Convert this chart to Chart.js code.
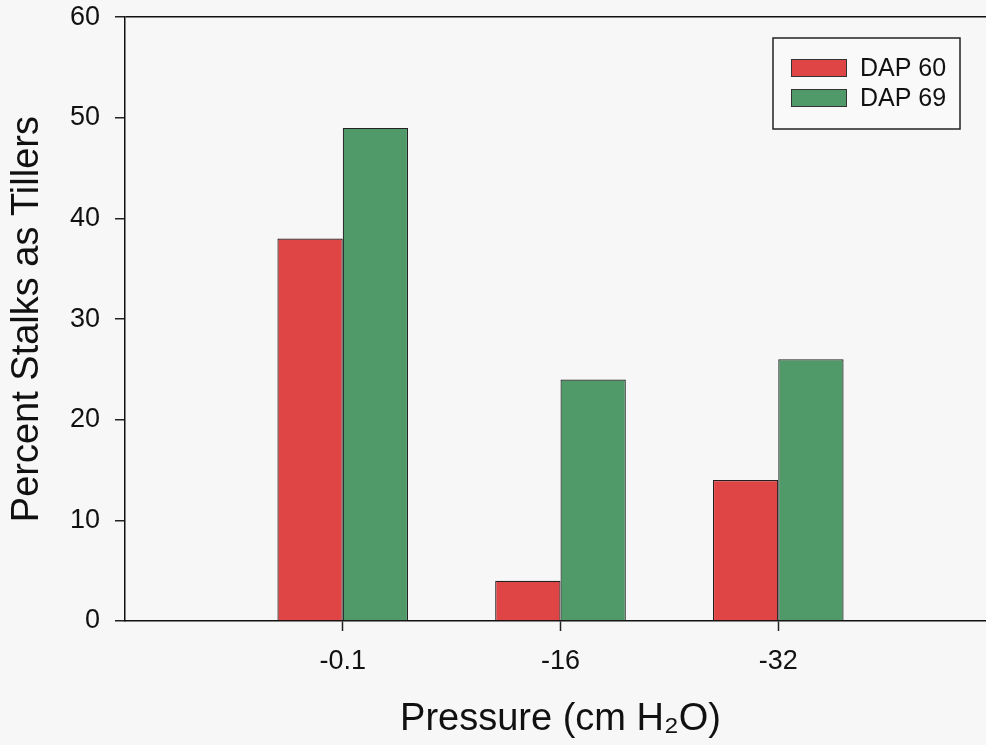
<!DOCTYPE html>
<html>
<head>
<meta charset="utf-8">
<script src="https://cdn.jsdelivr.net/npm/chart.js@4.4.1/dist/chart.umd.min.js"></script>
<style>
  html, body { margin: 0; padding: 0; background: #f7f7f7; overflow: hidden; }
  #wrap { position: relative; width: 986px; height: 745px; overflow: hidden; }
  #c { position: absolute; left: 0; top: -14px; }
</style>
</head>
<body>
<div id="wrap"><canvas id="c" width="1010" height="759"></canvas></div>
<script>
const categories = ['', '-0.1', '-16', '-32', ''];
const dap60 = [null, 38, 4, 14, null];
const dap69 = [null, 49, 24, 26, null];
const seriesNames = ['DAP 60', 'DAP 69'];
const yTicks = [0, 10, 20, 30, 40, 50, 60];

const RED = '#e04545';
const GREEN = '#4f9a68';
const FONT = "'Liberation Sans', Arial, sans-serif";
const SHIFT = 14;

const bgPlugin = {
  id: 'bg',
  beforeDraw(chart) {
    const ctx = chart.ctx;
    ctx.save();
    ctx.fillStyle = '#f7f7f7';
    ctx.fillRect(0, 0, chart.width, chart.height);
    ctx.restore();
  }
};

const legendPlugin = {
  id: 'boxLegend',
  afterDraw(chart) {
    const ctx = chart.ctx;
    const x0 = 773, y0 = 38 + SHIFT, w = 187, h = 91;
    ctx.save();
    ctx.fillStyle = '#f9f9f9';
    ctx.fillRect(x0, y0, w, h);
    ctx.strokeStyle = '#222';
    ctx.lineWidth = 1.5;
    ctx.strokeRect(x0, y0, w, h);
    chart.data.datasets.forEach((ds, i) => {
      const sy = 59 + SHIFT + i * 30;
      ctx.fillStyle = ds.backgroundColor;
      ctx.fillRect(791, sy, 56, 18);
      ctx.strokeStyle = '#333';
      ctx.lineWidth = 1;
      ctx.strokeRect(791.5, sy + 0.5, 55, 17);
      ctx.fillStyle = '#111';
      ctx.font = '25px ' + FONT;
      ctx.textAlign = 'left';
      ctx.textBaseline = 'middle';
      ctx.fillText(ds.label, 860, sy + 10);
    });
    ctx.restore();
  }
};

new Chart(document.getElementById('c'), {
  type: 'bar',
  data: {
    labels: categories,
    datasets: [
      { label: seriesNames[0], data: dap60, backgroundColor: RED, borderColor: '#222', borderWidth: 1.2 },
      { label: seriesNames[1], data: dap69, backgroundColor: GREEN, borderColor: '#222', borderWidth: 1.2 }
    ]
  },
  options: {
    responsive: false,
    animation: false,
    categoryPercentage: 0.6,
    barPercentage: 1.0,
    layout: { padding: { top: 2, right: 5, left: 0, bottom: 0 } },
    plugins: { legend: { display: false }, tooltip: { enabled: false } },
    scales: {
      x: {
        type: 'category',
        offset: false,
        afterFit(scale) { scale.height = 124; },
        grid: {
          offset: false,
          drawOnChartArea: false,
          drawTicks: true,
          tickLength: 10,
          tickWidth: 1.5,
          tickColor: (ctx) => (ctx.index >= 1 && ctx.index <= 3) ? '#222' : 'rgba(0,0,0,0)',
          color: 'rgba(0,0,0,0)'
        },
        border: { display: true, color: '#111', width: 1.5 },
        ticks: {
          font: { family: FONT, size: 27 },
          color: '#111',
          padding: 14,
          maxRotation: 0,
          autoSkip: false
        },
        title: {
          display: true,
          text: 'Pressure (cm H₂O)',
          font: { family: FONT, size: 38 },
          color: '#111',
          padding: { top: 0, bottom: 3 }
        }
      },
      y: {
        min: 0,
        max: 60,
        afterFit(scale) { scale.width = 125; },
        afterBuildTicks(scale) { scale.ticks = yTicks.map(v => ({ value: v })); },
        grid: {
          drawOnChartArea: true,
          drawTicks: true,
          tickLength: 10,
          tickWidth: 1.5,
          tickColor: '#222',
          lineWidth: 1.5,
          color: (ctx) => (ctx.tick && ctx.tick.value === 60) ? '#111' : 'rgba(0,0,0,0)'
        },
        border: { display: true, color: '#111', width: 1.5 },
        ticks: {
          font: { family: FONT, size: 27 },
          color: '#111',
          padding: 15
        },
        title: {
          display: true,
          text: 'Percent Stalks as Tillers',
          font: { family: FONT, size: 38 },
          color: '#111',
          padding: { top: 5, bottom: 0 }
        }
      }
    }
  },
  plugins: [bgPlugin, legendPlugin]
});
</script>
</body>
</html>
